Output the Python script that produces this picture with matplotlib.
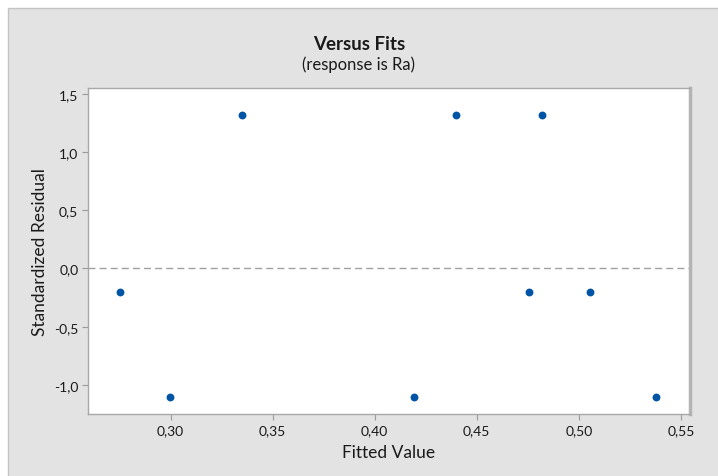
import matplotlib
matplotlib.use("Agg")
import matplotlib.pyplot as plt
from matplotlib.patches import Rectangle
from matplotlib.ticker import FuncFormatter

# Residuals vs fitted values
fitted = [0.2752, 0.2998, 0.3350, 0.4193, 0.4398, 0.4756, 0.4820, 0.5056, 0.5378]
std_resid = [-0.203, -1.105, 1.316, -1.105, 1.316, -0.203, 1.316, -0.203, -1.105]

x_ticks = [0.30, 0.35, 0.40, 0.45, 0.50, 0.55]
y_ticks = [-1.0, -0.5, 0.0, 0.5, 1.0, 1.5]

plt.rcParams['font.family'] = ['Lato', 'DejaVu Sans']

W, H = 718, 477
fig = plt.figure(figsize=(W / 100, H / 100), dpi=100, facecolor='white')

# gray panel behind everything
fig.patches.append(Rectangle((8 / W, -0.01), 1.02, (H - 9) / H + 0.01,
                             transform=fig.transFigure, facecolor='#e3e3e3',
                             edgecolor='#c4c4c4', linewidth=1, zorder=-5))

ax = fig.add_axes([88 / W, (H - 415) / H, (690 - 88) / W, (415 - 89) / H])
ax.set_facecolor('white')

ax.scatter(fitted, std_resid, s=32, color='#0054a6', zorder=3, linewidths=0)
ax.axhline(0, color='#a0a0a0', linestyle=(0, (5, 3)), linewidth=1, zorder=2)

ax.set_xlim(0.2595, 0.5545)
ax.set_ylim(-1.25, 1.55)
ax.set_xticks(x_ticks)
ax.set_yticks(y_ticks)

ax.xaxis.set_major_formatter(FuncFormatter(lambda v, p: f"{v:.2f}".replace('.', ',')))
ax.yaxis.set_major_formatter(FuncFormatter(lambda v, p: f"{v:.1f}".replace('.', ',')))

ax.tick_params(axis='both', length=4, color='#9a9a9a', labelsize=10,
               labelcolor='#1a1a1a', pad=3)

for side in ['left', 'bottom', 'top']:
    ax.spines[side].set_color('#a8a8a8')
    ax.spines[side].set_linewidth(1)
ax.spines['right'].set_color('#b4b4b4')
ax.spines['right'].set_linewidth(2.5)

ax.set_xlabel("Fitted Value", fontsize=12.5, color='#1a1a1a', labelpad=6)
ax.set_ylabel("Standardized Residual", fontsize=12.5, color='#1a1a1a', labelpad=4)

fig.text(0.5, 1 - 44 / H, "Versus Fits", ha='center', va='center',
         fontsize=13.5, fontweight='bold', color='#1a1a1a')
fig.text(0.5, 1 - 65 / H, "(response is Ra)", ha='center', va='center',
         fontsize=12, color='#1a1a1a')

fig.savefig("out.png", dpi=100, facecolor=fig.get_facecolor())
